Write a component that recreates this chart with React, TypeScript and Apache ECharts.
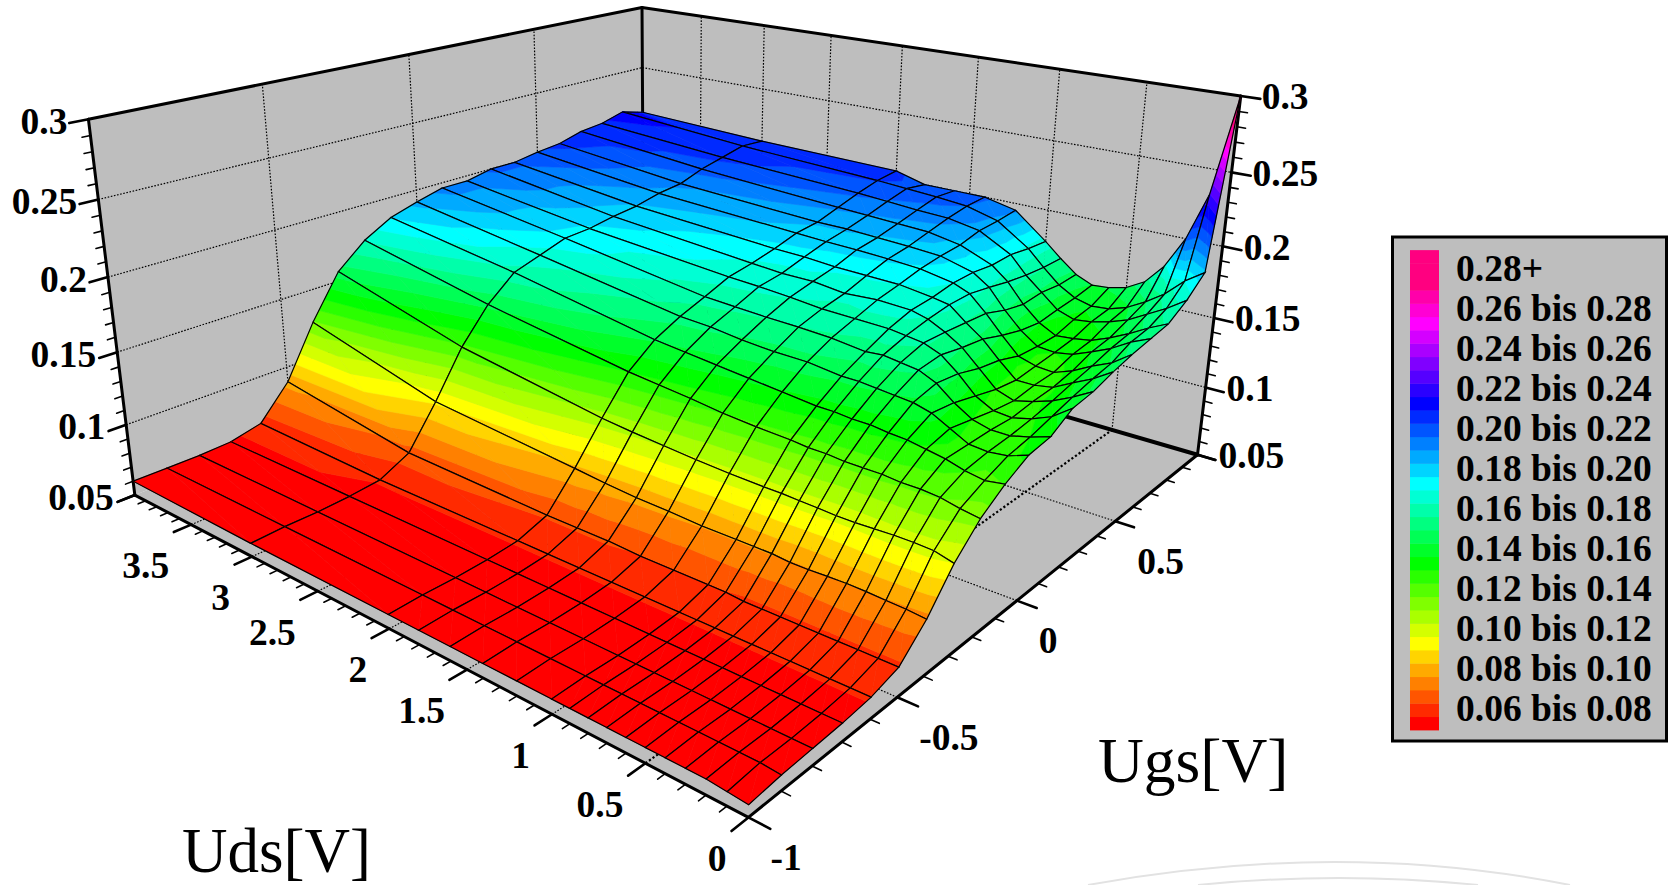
import React, { useEffect, useRef } from "react";
import * as echarts from "echarts";

// ---------- data ----------
const udsValues = [0, 0.1, 0.2, 0.3, 0.4, 0.5, 0.6, 0.7, 0.8, 0.9, 1, 1.2, 1.4, 1.6, 1.8, 2, 3, 4];
const ugsValues = [-1, -0.9, -0.8, -0.7, -0.6, -0.5, -0.4, -0.3, -0.2, -0.1, 0, 0.1, 0.2, 0.3, 0.4, 0.5, 0.6, 0.7, 0.8, 0.9, 1];
// one row per Uds value, one column per Ugs value
const idU00 = [.057,.059,.060,.061,.063,.068,.0844,.1065,.1227,.1336,.1418,.144,.153,.155,.1595,.163,.1655,.168,.1765,.1885,.300];
const idU01 = [.058,.060,.060,.061,.063,.068,.0855,.1095,.1245,.1317,.1374,.140,.144,.148,.1515,.154,.160,.162,.168,.180,.233];
const idU02 = [.059,.060,.060,.061,.063,.068,.086,.110,.127,.1337,.136,.137,.139,.142,.1455,.1485,.1525,.155,.161,.168,.200];
const idU03 = [.059,.060,.060,.061,.063,.068,.0866,.110,.128,.137,.137,.137,.136,.138,.139,.142,.147,.149,.154,.1595,.178];
const idU04 = [.059,.060,.060,.061,.063,.068,.0868,.1095,.128,.139,.143,.140,.137,.135,.137,.1375,.142,.144,.1495,.1525,.164];
const idU05 = [.059,.060,.060,.061,.063,.068,.0865,.109,.129,.141,.149,.147,.143,.139,.137,.1385,.140,.142,.1465,.1485,.157];
const idU06 = [.059,.060,.060,.061,.063,.068,.086,.109,.129,.1417,.152,.156,.154,.1495,.147,.142,.141,.141,.145,.1475,.154];
const idU07 = [.059,.060,.060,.061,.063,.068,.086,.1096,.129,.143,.153,.161,.163,.160,.158,.153,.149,.147,.149,.1505,.153];
const idU08 = [.059,.060,.060,.061,.063,.068,.087,.110,.130,.143,.154,.1625,.1675,.167,.166,.165,.160,.157,.1585,.157,.158];
const idU09 = [.059,.060,.060,.061,.063,.069,.087,.1105,.130,.144,.155,.164,.169,.1725,.175,.1755,.173,.170,.168,.167,.167];
const idU10 = [.059,.060,.060,.061,.063,.069,.087,.1105,.131,.144,.155,.163,.1705,.1755,.177,.180,.1805,.179,.180,.178,.177];
const idU12 = [.059,.060,.060,.061,.063,.069,.087,.111,.132,.146,.1575,.1655,.171,.1765,.180,.184,.1865,.188,.192,.193,.195];
const idU14 = [.059,.060,.060,.061,.063,.069,.088,.112,.1335,.148,.1577,.1665,.1715,.175,.1805,.1855,.188,.192,.196,.199,.200];
const idU16 = [.059,.060,.060,.061,.063,.070,.0885,.1135,.136,.150,.159,.167,.1735,.1775,.181,.1865,.189,.193,.197,.201,.200];
const idU18 = [.059,.060,.060,.061,.063,.070,.090,.115,.138,.152,.1615,.168,.175,.1775,.1825,.187,.190,.194,.1985,.2025,.200];
const idU20 = [.059,.060,.060,.061,.063,.070,.092,.117,.140,.154,.1625,.169,.176,.179,.183,.188,.190,.195,.200,.204,.206];
const idU30 = [.059,.060,.060,.061,.063,.073,.101,.132,.155,.171,.177,.183,.184,.187,.189,.193,.195,.201,.205,.209,.208];
const idU40 = [.060,.060,.060,.061,.066,.089,.126,.157,.174,.185,.191,.196,.196,.200,.200,.203,.205,.210,.212,.217,.212];
const idRows = [idU00, idU01, idU02, idU03, idU04, idU05, idU06, idU07, idU08, idU09, idU10, idU12, idU14, idU16, idU18, idU20, idU30, idU40];

const udsTicks = [0, 0.5, 1, 1.5, 2, 2.5, 3, 3.5];
const ugsTicks = [-1, -0.5, 0, 0.5];
const idTicks = ["0.05", "0.1", "0.15", "0.2", "0.25", "0.3"];
const legendLabels = ["0.28+", "0.26 bis 0.28", "0.24 bis 0.26", "0.22 bis 0.24", "0.20 bis 0.22", "0.18 bis 0.20", "0.16 bis 0.18", "0.14 bis 0.16", "0.12 bis 0.14", "0.10 bis 0.12", "0.08 bis 0.10", "0.06 bis 0.08"];
const bandColors = [
  "#ff0000","#ff2a00","#ff5500","#ff8000","#ffaa00","#ffd400","#ffff00","#d4ff00","#aaff00","#80ff00","#55ff00","#2aff00",
  "#00ff00","#00ff2a","#00ff55","#00ff80","#00ffaa","#00ffd4","#00ffff","#00d4ff","#00aaff","#0080ff","#0055ff","#002aff",
  "#0000ff","#2a00ff","#5500ff","#8000ff","#aa00ff","#d400ff","#ff00ff","#ff00d4","#ff00aa","#ff0080","#ff0080","#ff0080",
];

// ---------- box geometry (page pixels of the visible box corners) ----------
const FONT = '"Liberation Serif", "Times New Roman", serif';
const LABEL = 37.5;
const UDS_MAX = 4, UGS_MIN = -1, UGS_MAX = 1, ID_MIN = 0.05, ID_MAX = 0.3, BAND_MIN = 0.06, BAND_STEP = 0.02 / 3;
const corners: [number, number, number, number, number][] = [
  [0, 0, 0, 748, 817],
  [1, 0, 0, 135.5, 496],
  [0, 1, 0, 1198, 455],
  [1, 1, 0, 643, 293],
  [1, 0, 1, 88, 118.5],
  [0, 1, 1, 1240.5, 96],
  [1, 1, 1, 642.5, 8],
];

function solveLeastSquares(A: number[][], b: number[]) {
  const n = A[0].length;
  const M = Array.from({ length: n }, (_, r) => {
    const row = new Array(n + 1).fill(0);
    for (let c = 0; c < n; c++) for (let k = 0; k < A.length; k++) row[c] += A[k][r] * A[k][c];
    for (let k = 0; k < A.length; k++) row[n] += A[k][r] * b[k];
    return row;
  });
  for (let i = 0; i < n; i++) {
    let p = i;
    for (let r = i + 1; r < n; r++) if (Math.abs(M[r][i]) > Math.abs(M[p][i])) p = r;
    [M[i], M[p]] = [M[p], M[i]];
    for (let r = 0; r < n; r++) {
      if (r === i) continue;
      const f = M[r][i] / M[i][i];
      for (let c = i; c <= n; c++) M[r][c] -= f * M[i][c];
    }
  }
  return M.map((row, i) => row[n] / row[i]);
}

const camera = (() => {
  const A: number[][] = [];
  const b: number[] = [];
  for (const [u, v, w, x, y] of corners) {
    A.push([u, v, w, 1, 0, 0, 0, 0, -x * u, -x * v, -x * w]);
    b.push(x);
    A.push([0, 0, 0, 0, u, v, w, 1, -y * u, -y * v, -y * w]);
    b.push(y);
  }
  return solveLeastSquares(A, b);
})();

function project(uds: number, ugs: number, id: number): [number, number] {
  const u = uds / UDS_MAX, v = (ugs - UGS_MIN) / (UGS_MAX - UGS_MIN), w = (id - ID_MIN) / (ID_MAX - ID_MIN);
  const c = camera;
  const d = c[8] * u + c[9] * v + c[10] * w + 1;
  return [(c[0] * u + c[1] * v + c[2] * w + c[3]) / d, (c[4] * u + c[5] * v + c[6] * w + c[7]) / d];
}

// the picture's colour scale sits slightly above its height scale at both ends
function colourLevel(z: number) {
  if (z < 0.08) return z + 0.004;
  if (z < 0.18) return z;
  if (z < 0.205) return z + 0.4 * (z - 0.18);
  if (z < 0.23) return z + (0.01 * (0.23 - z)) / 0.025;
  return z;
}

type V = [number, number, number];
function clipBand(poly: V[], lo: number, hi: number): V[] {
  const clip = (pts: V[], limit: number, keepAbove: boolean) => {
    const out: V[] = [];
    for (let i = 0; i < pts.length; i++) {
      const a = pts[i], b = pts[(i + 1) % pts.length];
      const ina = keepAbove ? a[2] >= limit : a[2] <= limit;
      const inb = keepAbove ? b[2] >= limit : b[2] <= limit;
      if (ina) out.push(a);
      if (ina !== inb) {
        const t = (limit - a[2]) / (b[2] - a[2]);
        out.push([a[0] + t * (b[0] - a[0]), a[1] + t * (b[1] - a[1]), limit]);
      }
    }
    return out;
  };
  return clip(clip(poly, lo, true), hi, false);
}

function surfaceCell(_params: any, api: any) {
  const iu = api.value(0), iv = api.value(1);
  const vert = (a: number, b: number): V => {
    const [x, y] = project(udsValues[a], ugsValues[b], idRows[a][b]);
    return [x, y, colourLevel(idRows[a][b])];
  };
  const q = [vert(iu, iv), vert(iu + 1, iv), vert(iu + 1, iv + 1), vert(iu, iv + 1)];
  const children: any[] = [];
  for (const tri of [[q[0], q[1], q[2]], [q[0], q[2], q[3]]]) {
    for (let k = 0; k < bandColors.length; k++) {
      const lo = k === 0 ? -1 : BAND_MIN + k * BAND_STEP;
      const hi = k === bandColors.length - 1 ? 9 : BAND_MIN + (k + 1) * BAND_STEP;
      const part = clipBand(tri as V[], lo, hi);
      if (part.length >= 3) {
        children.push({
          type: "polygon",
          shape: { points: part.map((p) => [p[0], p[1]]) },
          style: { fill: bandColors[k], stroke: bandColors[k], lineWidth: 0.6 },
          silent: true,
        });
      }
    }
  }
  children.push({
    type: "polygon",
    shape: { points: q.map((p) => [p[0], p[1]]) },
    style: { fill: "none", stroke: "#000", lineWidth: 1.2 },
    silent: true,
  });
  return { type: "group", children };
}

function buildGraphic() {
  const els: any[] = [];
  const GREY = "#bebebe";
  const poly = (pts: [number, number, number][]) =>
    els.push({ type: "polygon", shape: { points: pts.map((p) => project(p[0], p[1], p[2])) }, style: { fill: GREY } });
  const line = (a: [number, number, number], b: [number, number, number], width: number, dash?: number[]) => {
    const [x1, y1] = project(a[0], a[1], a[2]);
    const [x2, y2] = project(b[0], b[1], b[2]);
    els.push({
      type: "line",
      shape: { x1, y1, x2, y2 },
      style: { stroke: "#000", lineWidth: width, lineDash: dash, lineCap: dash ? "butt" : "round" },
    });
  };
  const text = (s: string, x: number, y: number, size: number, align: string, weight = "bold") =>
    els.push({
      type: "text",
      x,
      y,
      style: { text: s, fontFamily: FONT, fontSize: size, fontWeight: weight, fill: "#000", align, verticalAlign: "middle" },
    });

  // faint arcs at the foot of the page
  for (const [x1, x2, cy] of [[1088, 1570, 839], [1198, 1478, 871]]) {
    els.push({
      type: "bezierCurve",
      shape: { x1, y1: 885, x2, y2: 885, cpx1: 1340, cpy1: cy },
      style: { stroke: "#e2e2e2", lineWidth: 2, fill: "none" },
    });
  }

  // walls and floor
  poly([[UDS_MAX, UGS_MIN, ID_MIN], [UDS_MAX, UGS_MAX, ID_MIN], [UDS_MAX, UGS_MAX, ID_MAX], [UDS_MAX, UGS_MIN, ID_MAX]]);
  poly([[UDS_MAX, UGS_MAX, ID_MIN], [0, UGS_MAX, ID_MIN], [0, UGS_MAX, ID_MAX], [UDS_MAX, UGS_MAX, ID_MAX]]);
  poly([[0, UGS_MIN, ID_MIN], [UDS_MAX, UGS_MIN, ID_MIN], [UDS_MAX, UGS_MAX, ID_MIN], [0, UGS_MAX, ID_MIN]]);

  // dotted grid
  const dash = [1.6, 1.6];
  for (const t of idTicks.slice(1, 5).map(Number)) {
    line([UDS_MAX, UGS_MIN, t], [UDS_MAX, UGS_MAX, t], 1.2, dash);
    line([UDS_MAX, UGS_MAX, t], [0, UGS_MAX, t], 1.2, dash);
  }
  for (const t of ugsTicks.slice(1)) {
    line([UDS_MAX, t, ID_MIN], [UDS_MAX, t, ID_MAX], 1.2, dash);
    line([0, t, ID_MIN], [UDS_MAX, t, ID_MIN], 1.2, dash);
  }
  for (const t of udsTicks.slice(1)) {
    line([t, UGS_MAX, ID_MIN], [t, UGS_MAX, ID_MAX], 1.2, dash);
    line([t, UGS_MIN, ID_MIN], [t, UGS_MAX, ID_MIN], t === 0.5 ? 2.2 : 1.2, t === 0.5 ? [2.2, 2.2] : dash);
  }

  // box edges
  const W = 3;
  line([UDS_MAX, UGS_MIN, ID_MAX], [UDS_MAX, UGS_MAX, ID_MAX], W);
  line([UDS_MAX, UGS_MAX, ID_MAX], [0, UGS_MAX, ID_MAX], W);
  line([UDS_MAX, UGS_MAX, ID_MAX], [UDS_MAX, UGS_MAX, ID_MIN], W);
  line([UDS_MAX, UGS_MIN, ID_MAX], [UDS_MAX, UGS_MIN, ID_MIN], W);
  line([0, UGS_MAX, ID_MAX], [0, UGS_MAX, ID_MIN], W);
  line([0, UGS_MIN, ID_MIN], [UDS_MAX, UGS_MIN, ID_MIN], W);
  line([0, UGS_MIN, ID_MIN], [0, UGS_MAX, ID_MIN], W);
  line([UDS_MAX, UGS_MAX, ID_MIN], [0, UGS_MAX, ID_MIN], W + 1);

  // ticks: extensions are normalised fractions of the box
  const MAJOR = 0.025, MINOR = 0.011;
  const vExt = (f: number) => f * (UGS_MAX - UGS_MIN);
  const uExt = (f: number) => f * UDS_MAX;
  for (let k = 0; k <= 25; k++) {
    const z = ID_MIN + (k * (ID_MAX - ID_MIN)) / 25;
    const f = k % 5 === 0 ? MAJOR : MINOR;
    const w = k % 5 === 0 ? 2.6 : 1.6;
    line([UDS_MAX, UGS_MIN, z], [UDS_MAX, UGS_MIN - vExt(f), z], w);
    line([0, UGS_MAX, z], [-uExt(f), UGS_MAX, z], w);
  }
  for (let k = 0; k <= 40; k++) {
    const u = (k * UDS_MAX) / 40;
    const f = k % 5 === 0 ? MAJOR : MINOR;
    line([u, UGS_MIN, ID_MIN], [u, UGS_MIN - vExt(f), ID_MIN], k % 5 === 0 ? 2.6 : 1.6);
  }
  for (let k = 0; k <= 20; k++) {
    const v = UGS_MIN + (k * (UGS_MAX - UGS_MIN)) / 20;
    const f = k % 5 === 0 ? MAJOR : MINOR;
    line([0, v, ID_MIN], [-uExt(f), v, ID_MIN], k % 5 === 0 ? 2.6 : 1.6);
  }

  // tick labels
  for (const s of idTicks) {
    const z = Number(s);
    const [lx, ly] = project(UDS_MAX, UGS_MIN, z);
    text(s, lx - 21, ly + 2, LABEL, "right");
    const [rx, ry] = project(0, UGS_MAX, z);
    text(s, rx + 21, ry + 1, LABEL, "left");
  }
  for (const u of udsTicks) {
    const [x, y] = project(u, UGS_MIN, ID_MIN);
    text(String(u), x - 22, y + 41, LABEL, "right");
  }
  for (const v of ugsTicks) {
    const [x, y] = project(0, v, ID_MIN);
    text(String(v), x + 22, y + 40, LABEL, "left");
  }

  // axis titles
  text("Uds[V]", 182, 851, 63, "left", "normal");
  text("Ugs[V]", 1098, 760, 63.5, "left", "normal");

  // legend
  els.push({ type: "rect", shape: { x: 1392.5, y: 237, width: 274, height: 504 }, style: { fill: GREY, stroke: "#000", lineWidth: 3 } });
  const bandH = 13.33;
  bandColors.forEach((c, k) => {
    els.push({ type: "rect", shape: { x: 1410, y: 730 - (k + 1) * bandH, width: 29, height: bandH + 0.4 }, style: { fill: c } });
  });
  legendLabels.forEach((s, k) => text(s, 1456, 268 + k * 40, LABEL, "left"));
  return els;
}

const surfaceData: number[][] = [];
for (let a = udsValues.length - 2; a >= 0; a--) {
  for (let b = ugsValues.length - 2; b >= 0; b--) surfaceData.push([a, b]);
}

export default function App() {
  const ref = useRef<HTMLDivElement>(null);
  useEffect(() => {
    const chart = echarts.init(ref.current!, undefined, { renderer: "svg" });
    chart.setOption({
      animation: false,
      graphic: { elements: buildGraphic() },
      series: [
        {
          type: "custom",
          coordinateSystem: "none",
          renderItem: surfaceCell,
          data: surfaceData,
          silent: true,
          clip: false,
        },
      ],
    });
    return () => chart.dispose();
  }, []);
  return <div ref={ref} style={{ position: "fixed", left: 0, top: 0, width: 1670, height: 885, background: "#fff" }} />;
}
